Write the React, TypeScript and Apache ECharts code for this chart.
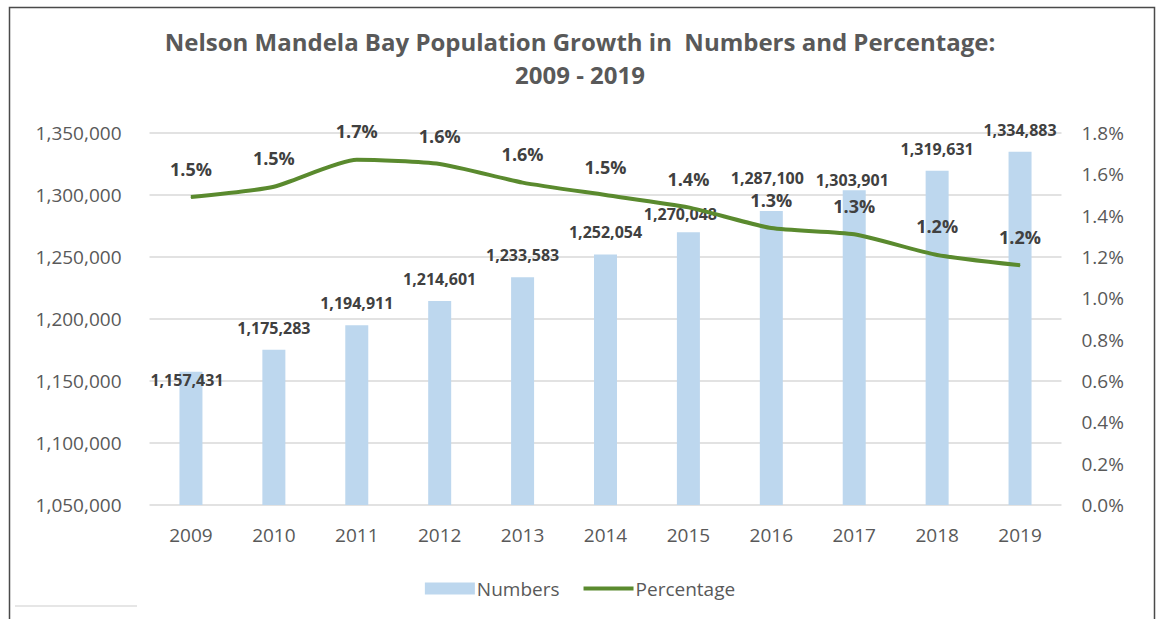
import React, { useEffect, useRef } from "react";
import * as echarts from "echarts";

const years = ["2009", "2010", "2011", "2012", "2013", "2014", "2015", "2016", "2017", "2018", "2019"];
const numbers = [1157431, 1175283, 1194911, 1214601, 1233583, 1252054, 1270048, 1287100, 1303901, 1319631, 1334883];
const percentage = [1.49, 1.54, 1.67, 1.65, 1.56, 1.5, 1.44, 1.34, 1.31, 1.21, 1.16];
const titleLines = ["Nelson Mandela Bay Population Growth in  Numbers and Percentage:", "2009 - 2019"];

const FONT = "'Open Sans', 'Liberation Sans', sans-serif";
const fmtNum = (v: number) => v.toLocaleString("en-US");

// label nudges for a few bar labels (index -> [dx, dy])
const barLabelNudge: Record<number, [number, number]> = {
  0: [-4, 30],
  6: [-8, 4],
  7: [-4, -11],
  8: [-2, 12],
};

const LINE_ICON = "path://M0,0L0.01,0M0,4H50V8H0ZM0,12L0.01,12";

export default function App() {
  const ref = useRef<HTMLDivElement>(null);
  useEffect(() => {
    if (!ref.current) return;
    const chart = echarts.init(ref.current, undefined, { renderer: "svg" });
    const option: any = {
      animation: false,
      backgroundColor: "#ffffff",
      textStyle: { fontFamily: FONT },
      title: {
        text: titleLines.join("\n"),
        left: "center",
        top: 20,
        textStyle: {
          fontFamily: FONT,
          fontSize: 24,
          fontWeight: "bold",
          color: "#595959",
          lineHeight: 33,
        },
      },
      grid: { left: 149.5, right: 98.5, top: 133, bottom: 114, containLabel: false },
      legend: {
        bottom: 16,
        left: "center",
        itemWidth: 50,
        itemHeight: 12,
        itemGap: 24,
        symbolKeepAspect: false,
        textStyle: { fontFamily: FONT, fontSize: 19, color: "#595959", padding: [0, 0, 0, -3] },
        data: [
          { name: "Numbers", icon: "rect" },
          { name: "Percentage", icon: LINE_ICON },
        ],
      },
      xAxis: {
        type: "category",
        data: years,
        axisLine: { show: false },
        axisTick: { show: false },
        axisLabel: { fontFamily: FONT, fontSize: 19, color: "#595959", margin: 20 },
      },
      yAxis: [
        {
          type: "value",
          min: 1050000,
          max: 1350000,
          interval: 50000,
          axisLine: { show: false },
          axisTick: { show: false },
          splitLine: { lineStyle: { color: "#d9d9d9", width: 1.5 } },
          axisLabel: {
            fontFamily: FONT,
            fontSize: 19,
            color: "#595959",
            margin: 28,
            formatter: (v: number) => fmtNum(v),
          },
        },
        {
          type: "value",
          min: 0,
          max: 1.8,
          interval: 0.2,
          axisLine: { show: false },
          axisTick: { show: false },
          splitLine: { show: false },
          axisLabel: {
            fontFamily: FONT,
            fontSize: 19,
            color: "#595959",
            margin: 20,
            formatter: (v: number) => v.toFixed(1) + "%",
          },
        },
      ],
      series: [
        {
          name: "Numbers",
          type: "bar",
          yAxisIndex: 0,
          barWidth: 23,
          itemStyle: { color: "#bdd7ee" },
          data: numbers.map((v, i) => {
            const n = barLabelNudge[i];
            return n ? { value: v, label: { offset: n } } : v;
          }),
          label: {
            show: true,
            position: "top",
            distance: 14,
            fontFamily: FONT,
            fontSize: 16,
            fontWeight: "bold",
            color: "#404040",
            formatter: (p: any) => fmtNum(p.value),
          },
        },
        {
          name: "Percentage",
          type: "line",
          yAxisIndex: 1,
          smooth: 0.2,
          symbol: "circle",
          symbolSize: 1,
          showSymbol: true,
          lineStyle: { color: "#5a8a2e", width: 4 },
          itemStyle: { color: "#5a8a2e" },
          data: percentage,
          label: {
            show: true,
            position: "top",
            distance: 19,
            fontFamily: FONT,
            fontSize: 18,
            fontWeight: "bold",
            color: "#404040",
            formatter: (p: any) => Number(p.value).toFixed(1) + "%",
          },
        },
      ],
      graphic: [
        {
          type: "rect",
          shape: { x: 9.5, y: 7.5, width: 1145, height: 620 },
          style: { fill: "none", stroke: "#4a4a4a", lineWidth: 1.5 },
          silent: true,
        },
        {
          type: "line",
          shape: { x1: 15, y1: 606, x2: 137, y2: 606 },
          style: { stroke: "#e6e6e6", lineWidth: 2 },
          silent: true,
        },
      ],
    };
    chart.setOption(option);
    return () => chart.dispose();
  }, []);
  return (
    <div
      style={{ position: "fixed", left: 0, top: 0, width: 1160, height: 619, background: "#fff" }}
    >
      <div ref={ref} style={{ width: 1160, height: 619 }} />
    </div>
  );
}
